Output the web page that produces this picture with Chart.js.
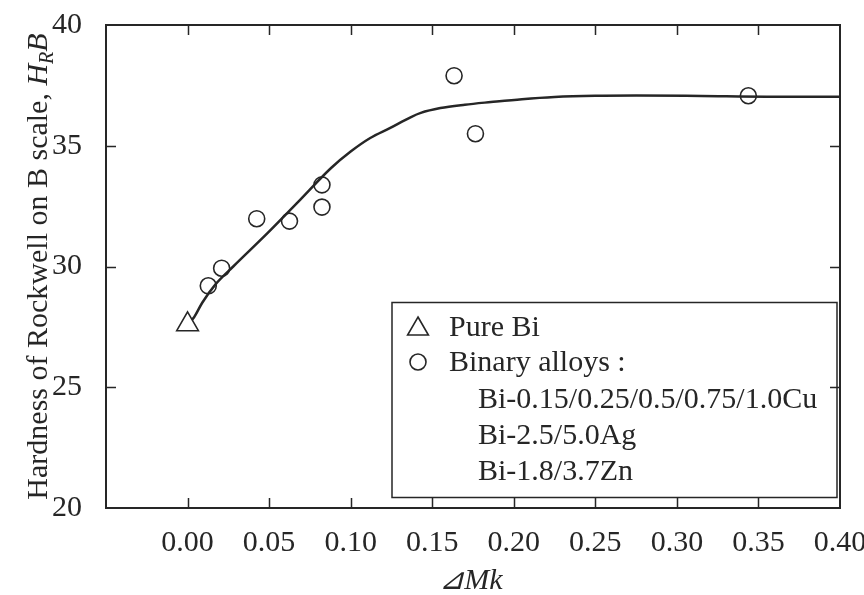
<!DOCTYPE html>
<html lang="en">
<head>
<meta charset="UTF-8" />
<title>Hardness of Rockwell B vs dMk</title>
<style>
  html, body { margin: 0; padding: 0; background: #fff; }
  #wrap { width: 864px; height: 595px; }
</style>
</head>
<body>
<div id="wrap"><canvas id="hardnessChart" width="864" height="595"></canvas></div>
<script src="https://cdn.jsdelivr.net/npm/chart.js"></script>
<script>
  // Pure Bi
  const pureX = [0.0];
  const pureY = [27.6];

  // Binary alloys (Cu, Ag, Zn additions)
  const alloyX = [0.0127, 0.0209, 0.0424, 0.0625, 0.0824, 0.0824, 0.1634, 0.1765, 0.3438];
  const alloyY = [29.2, 29.93, 31.98, 31.88, 33.38, 32.46, 37.9, 35.5, 37.07];

  // trend curve through the data
  const curveX = [0.000, 0.004, 0.009, 0.017, 0.028, 0.049, 0.069, 0.088, 0.100, 0.112, 0.124,
                  0.137, 0.143, 0.155, 0.170, 0.186, 0.205, 0.225, 0.250, 0.275, 0.315, 0.355, 0.400];
  const curveY = [27.6, 27.9, 28.5, 29.25, 30.0, 31.38, 32.76, 34.08, 34.76, 35.32, 35.73,
                  36.19, 36.36, 36.56, 36.70, 36.81, 36.93, 37.02, 37.07, 37.08, 37.06, 37.03, 37.03];

  const legendLines = [
    "Pure Bi",
    "Binary alloys :",
    "Bi-0.15/0.25/0.5/0.75/1.0Cu",
    "Bi-2.5/5.0Ag",
    "Bi-1.8/3.7Zn",
  ];

  const FONT = "'Liberation Serif', 'Times New Roman', serif";
  const INK = "#262626";

  const toPts = (xs, ys) => xs.map((x, i) => ({ x: x, y: ys[i] }));

  // frame, inward ticks, axis titles and the legend box
  const decor = {
    id: "decor",
    afterDraw(chart) {
      const ctx = chart.ctx;
      const a = chart.chartArea;
      const xs = chart.scales.x;
      const ys = chart.scales.y;
      ctx.save();
      ctx.strokeStyle = INK;
      ctx.fillStyle = INK;

      ctx.lineWidth = 2;
      ctx.strokeRect(a.left, a.top, a.right - a.left, a.bottom - a.top);

      ctx.lineWidth = 1.5;
      ctx.beginPath();
      xs.ticks.forEach((t) => {
        if (t.value <= xs.min + 1e-9 || t.value >= xs.max - 1e-9) return;
        const px = Math.round(xs.getPixelForValue(t.value)) + 0.5;
        ctx.moveTo(px, a.bottom); ctx.lineTo(px, a.bottom - 10);
        ctx.moveTo(px, a.top); ctx.lineTo(px, a.top + 10);
      });
      ys.ticks.forEach((t) => {
        if (t.value <= ys.min + 1e-9 || t.value >= ys.max - 1e-9) return;
        const py = Math.round(ys.getPixelForValue(t.value)) + 0.5;
        ctx.moveTo(a.left, py); ctx.lineTo(a.left + 10, py);
        ctx.moveTo(a.right, py); ctx.lineTo(a.right - 10, py);
      });
      ctx.stroke();

      // x title
      ctx.textBaseline = "alphabetic";
      ctx.textAlign = "center";
      ctx.font = "italic 30px " + FONT;
      ctx.fillText("\u22BFMk", (a.left + a.right) / 2 - 2, 589);

      // y title with subscript
      const parts = [
        { t: "Hardness of Rockwell on B scale, ", f: "30px " + FONT, dy: 0 },
        { t: "H", f: "italic 30px " + FONT, dy: 0 },
        { t: "R", f: "italic 20px " + FONT, dy: 6 },
        { t: "B", f: "italic 30px " + FONT, dy: 0 },
      ];
      let total = 0;
      parts.forEach((p) => { ctx.font = p.f; p.w = ctx.measureText(p.t).width; total += p.w; });
      ctx.save();
      ctx.translate(47, (a.top + a.bottom) / 2);
      ctx.rotate(-Math.PI / 2);
      ctx.textAlign = "left";
      let cx = -total / 2;
      parts.forEach((p) => {
        ctx.font = p.f;
        ctx.fillText(p.t, cx, p.dy);
        cx += p.w;
      });
      ctx.restore();

      // legend
      ctx.lineWidth = 1.5;
      ctx.strokeRect(392, 302.5, 445, 195);
      ctx.font = "30px " + FONT;
      ctx.textAlign = "left";
      const rows = [326, 361, 398, 434, 470];
      legendLines.forEach((s, i) => {
        const x = i < 2 ? 449 : 478;
        ctx.fillText(s, x, rows[i] + 10);
      });
      // legend symbols
      ctx.lineWidth = 1.6;
      const r = 12;
      const tx = 418, ty = rows[0] + 3;
      ctx.beginPath();
      ctx.moveTo(tx, ty - r);
      ctx.lineTo(tx + r * Math.sin(Math.PI * 2 / 3), ty + r / 2);
      ctx.lineTo(tx - r * Math.sin(Math.PI * 2 / 3), ty + r / 2);
      ctx.closePath();
      ctx.stroke();
      ctx.beginPath();
      ctx.arc(418, rows[1] + 1, 8, 0, Math.PI * 2);
      ctx.stroke();

      ctx.restore();
    },
  };

  new Chart(document.getElementById("hardnessChart"), {
    type: "scatter",
    data: {
      datasets: [
        {
          label: "Pure Bi",
          data: toPts(pureX, pureY),
          pointStyle: "triangle",
          pointRadius: 12.5,
          pointBorderWidth: 1.6,
          pointBackgroundColor: "#fff",
          pointBorderColor: INK,
        },
        {
          label: "Binary alloys",
          data: toPts(alloyX, alloyY),
          pointStyle: "circle",
          pointRadius: 8,
          pointBorderWidth: 1.6,
          pointBackgroundColor: "rgba(255,255,255,0)",
          pointBorderColor: INK,
        },
        {
          label: "Curve",
          type: "line",
          data: toPts(curveX, curveY),
          showLine: true,
          pointRadius: 0,
          borderColor: INK,
          borderWidth: 2.5,
          cubicInterpolationMode: "monotone",
          fill: false,
        },
      ],
    },
    options: {
      responsive: false,
      animation: false,
      events: [],
      layout: { padding: { top: 25, right: 24, left: 0, bottom: 0 } },
      plugins: { legend: { display: false }, tooltip: { enabled: false } },
      scales: {
        x: {
          type: "linear",
          min: -0.05,
          max: 0.4,
          grid: { display: false, drawTicks: false },
          border: { display: false },
          ticks: {
            stepSize: 0.05,
            autoSkip: false,
            maxRotation: 0,
            padding: 17,
            color: INK,
            font: { family: FONT, size: 30 },
            callback: (v) => (v < -0.001 ? "" : v.toFixed(2)),
          },
          afterFit(s) { s.height = 87; s.paddingLeft = 0; s.paddingRight = 0; },
        },
        y: {
          min: 20,
          max: 40,
          grid: { display: false, drawTicks: false },
          border: { display: false },
          ticks: {
            stepSize: 5,
            padding: 24,
            color: INK,
            font: { family: FONT, size: 30 },
          },
          afterFit(s) { s.width = 106; s.paddingTop = 0; s.paddingBottom = 0; },
        },
      },
    },
    plugins: [decor],
  });
</script>
</body>
</html>
